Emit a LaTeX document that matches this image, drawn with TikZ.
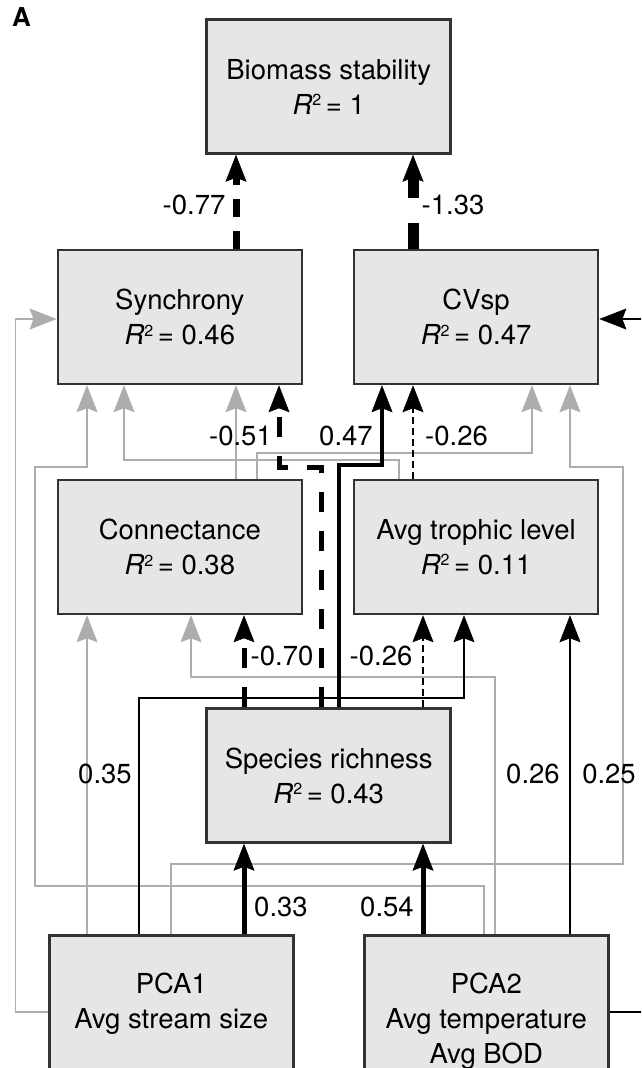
\documentclass[tikz,border=0pt]{standalone}
\usepackage{fontspec}
\setmainfont{TeX Gyre Heros}
\usetikzlibrary{arrows.meta}

\definecolor{boxfill}{HTML}{E6E6E6}
\definecolor{boxline}{HTML}{333333}
\definecolor{pathgray}{HTML}{ADADAD}

\newcommand\diagfont{\fontsize{27.5}{35}\selectfont}

\tikzset{
  box/.style={draw=boxline, fill=boxfill, line width=2.5pt,
    minimum width=244pt, minimum height=134pt, inner sep=0pt,
    align=center, font=\diagfont},
  lab/.style={font=\diagfont, inner sep=0pt},
  tip/.style={-{Stealth[length=27pt,width=21pt,inset=4pt,line width=0.5pt]}},
  weak/.style={tip, draw=pathgray, line width=1.8pt},
  thinpos/.style={tip, draw=black, line width=2.5pt},
  midpos/.style={tip, draw=black, line width=4pt},
  strongpos/.style={tip, draw=black, line width=5pt},
  thinneg/.style={tip, draw=black, line width=2.5pt, dash pattern=on 7pt off 4pt},
  midneg/.style={tip, draw=black, line width=5pt, dash pattern=on 20pt off 19pt},
  bigneg/.style={tip, draw=black, line width=7pt, dash pattern=on 18pt off 14pt},
  hugeneg/.style={tip, draw=black, line width=11pt, dash pattern=on 26pt off 25pt},
}

% italic R with a raised small 2
\newcommand\rsq[1]{\textit{R}\raisebox{8.5pt}{\fontsize{16}{16}\selectfont 2}\,= #1}

\begin{document}
\begin{tikzpicture}[x=1pt, y=-1pt]
  \useasboundingbox (0,0) rectangle (641,1068);
  \clip (0,0) rectangle (641,1068);

  % panel letter
  \node[font=\bfseries\fontsize{26}{26}\selectfont, anchor=base west, inner sep=0pt]
    (panel) at (12,26) {A};

  % variables
  \node[box] (bio)  at (328.7, 86.5) {Biomass stability\\\rsq{1}};
  \node[box] (syn)  at (179.8, 317)  {Synchrony\\\rsq{0.46}};
  \node[box] (cvsp) at (476.1, 317)  {CVsp\\\rsq{0.47}};
  \node[box] (conn) at (179.8, 547)  {Connectance\\\rsq{0.38}};
  \node[box] (atl)  at (476.1, 547)  {Avg trophic level\\\rsq{0.11}};
  \node[box] (sr)   at (328.7, 775.5){Species richness\\\rsq{0.43}};
  \node[box, minimum height=137pt, anchor=north] (pca1) at (171.3, 934)
    {PCA1\\Avg stream size};
  \node[box, minimum height=172pt, anchor=north] (pca2) at (486.3, 934)
    {PCA2\\Avg temperature\\Avg BOD};

  % non-significant paths (grey)
  \draw[weak] (pca1.west |- 0,1012) -| (15.5,319) -- (syn.west |- 0,319);
  \draw[weak] (pca2.north -| 484,0) |- (35,886) |- (87,467) -- (syn.south -| 87,0);
  \draw[weak] (atl.north -| 399,0) |- (124,460) -- (syn.south -| 124,0);
  \draw[weak] (conn.north -| 236,0) -- (syn.south -| 236,0);
  \draw[weak] (conn.north -| 257,0) |- (532,453) -- (cvsp.south -| 532,0);
  \draw[weak] (pca1.north -| 171,0) |- (623,864) |- (570,467) -- (cvsp.south -| 570,0);
  \draw[weak] (pca1.north -| 87,0) -- (conn.south -| 87,0);
  \draw[weak] (pca2.north -| 495,0) |- (191,677) -- (conn.south -| 191,0);

  % significant paths
  \draw[bigneg]  (syn.north -| 236,0) -- (bio.south -| 236,0);
  \draw[hugeneg] (cvsp.north -| 413,0) -- (bio.south -| 413,0);
  \draw[thinpos] (pca2.east |- 0,1012) -| (662,319) -- (cvsp.east |- 0,319);
  \draw[midneg]  (sr.north -| 321,0) |- (279,467) -- (syn.south -| 279,0);
  \draw[midpos]  (sr.north -| 339,0) |- (382,465) -- (cvsp.south -| 382,0);
  \draw[thinneg] (atl.north -| 413,0) -- (cvsp.south -| 413,0);
  \draw[midneg]  (sr.north -| 244,0) -- (conn.south -| 244,0);
  \draw[thinneg] (sr.north -| 423,0) -- (atl.south -| 423,0);
  \draw[thinpos] (pca1.north -| 139,0) |- (464,698) -- (atl.south -| 464,0);
  \draw[thinpos] (pca2.north -| 570,0) -- (atl.south -| 570,0);
  \draw[strongpos] (pca1.north -| 244,0) -- (sr.south -| 244,0);
  \draw[strongpos] (pca2.north -| 423,0) -- (sr.south -| 423,0);

  % path coefficients
  \node[lab] (c077) at (194,205) {-0.77};
  \node[lab] (c133) at (453,205) {-1.33};
  \node[lab, anchor=east] (c051) at (272,436) {-0.51};
  \node[lab] (c047) at (346,436) {0.47};
  \node[lab, anchor=west] (c026a) at (425,436) {-0.26};
  \node[lab] (c070) at (282,656) {-0.70};
  \node[lab] (c026b) at (381,656) {-0.26};
  \node[lab] (c035) at (105,774) {0.35};
  \node[lab] (c026c) at (533,774) {0.26};
  \node[lab] (c025) at (609,774) {0.25};
  \node[lab] (c033) at (281,907) {0.33};
  \node[lab] (c054) at (387,907) {0.54};
\end{tikzpicture}
\end{document}
